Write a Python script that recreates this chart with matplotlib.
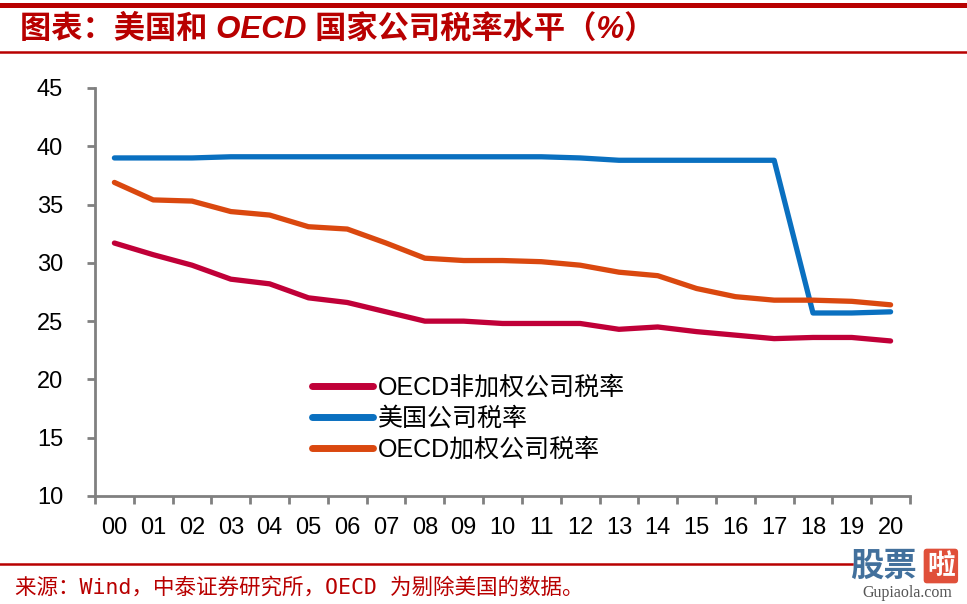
import matplotlib.pyplot as plt
from matplotlib.lines import Line2D

years = ['00', '01', '02', '03', '04', '05', '06', '07', '08', '09', '10',
         '11', '12', '13', '14', '15', '16', '17', '18', '19', '20']
oecd_unweighted = [31.7, 30.7, 29.8, 28.6, 28.2, 27.0, 26.6, 25.8, 25.0, 25.0, 24.8,
                   24.8, 24.8, 24.3, 24.5, 24.1, 23.8, 23.5, 23.6, 23.6, 23.3]
us_rate = [39.0, 39.0, 39.0, 39.1, 39.1, 39.1, 39.1, 39.1, 39.1, 39.1, 39.1,
           39.1, 39.0, 38.8, 38.8, 38.8, 38.8, 38.8, 25.7, 25.7, 25.8]
oecd_weighted = [36.9, 35.4, 35.3, 34.4, 34.1, 33.1, 32.9, 31.7, 30.4, 30.2, 30.2,
                 30.1, 29.8, 29.2, 28.9, 27.8, 27.1, 26.8, 26.8, 26.7, 26.4]
labels = ['OECD非加权公司税率', '美国公司税率', 'OECD加权公司税率']
colors = ['#C00038', '#0A70C0', '#DA480F']

title = '图表：美国和 OECD 国家公司税率水平（%）'
source = '来源：Wind，中泰证券研究所，OECD 为剔除美国的数据。'

plt.rcParams['font.family'] = ['Liberation Sans', 'Noto Sans CJK SC', 'DejaVu Sans']

W, H = 967, 604
fig = plt.figure(figsize=(W / 100, H / 100), dpi=100)
ax = fig.add_axes([95 / W, 1 - 496 / H, (910 - 95) / W, (496 - 88) / H])

x = list(range(len(years)))
for vals, lab, c in zip([oecd_unweighted, us_rate, oecd_weighted], labels, colors):
    ax.plot(x, vals, color=c, lw=3.8, label=lab, solid_capstyle='round', solid_joinstyle='round')

ax.set_xlim(-0.5, len(years) - 0.5)
ax.set_ylim(10, 45)
ax.set_yticks(range(10, 50, 5))
ax.set_xticks(x)
ax.set_xticklabels(years)
ax.set_xticks([i + 0.5 for i in range(-1, len(years))], minor=True)

gray = '#808080'
for s in ['top', 'right']:
    ax.spines[s].set_visible(False)
for s in ['left', 'bottom']:
    ax.spines[s].set_color(gray)
    ax.spines[s].set_linewidth(2)
ax.tick_params(axis='y', length=6, width=2, color=gray, pad=17, labelsize=17)
ax.tick_params(axis='x', which='major', length=0, pad=15, labelsize=17)
ax.tick_params(axis='x', which='minor', length=6, width=2, color=gray)

leg = ax.legend(loc='upper left', bbox_to_anchor=(312 / W, 1 - 376 / H),
                bbox_transform=fig.transFigure, frameon=False, fontsize=18,
                handlelength=2.45, handletextpad=0.2, labelspacing=0.27,
                borderpad=0, borderaxespad=0)
for h in leg.legend_handles:
    h.set_linewidth(5)

red = '#B80000'
fig.add_artist(Line2D([0, 1], [1 - 4.5 / H] * 2, color=red, lw=3.6))
fig.add_artist(Line2D([0, 1], [1 - 52 / H] * 2, color=red, lw=1.8))
fig.add_artist(Line2D([0, 852 / W], [1 - 564 / H] * 2, color=red, lw=1.8))

fig.text(20 / W, 1 - 30 / H, title, color=red, fontsize=22.5, fontweight='bold',
         style='italic', va='center', ha='left')
fig.text(15 / W, 1 - 587 / H, source, color=red, fontsize=15.5, va='center', ha='left',
         family=['DejaVu Sans Mono', 'Noto Sans CJK SC'])

# watermark
fig.text(850 / W, 1 - 566 / H, '股票', color='#42709C', fontsize=24, fontweight='bold',
         va='center', ha='left', family=['Noto Sans CJK SC'])
fig.text(927 / W, 1 - 566 / H, '啦', color='white', fontsize=20, fontweight='bold',
         va='center', ha='left', family=['Noto Sans CJK SC'],
         bbox=dict(boxstyle='round,pad=0.12', fc='#E0503A', ec='none'))
fig.text(907 / W, 1 - 593 / H, 'Gupiaola.com', color='#555555', fontsize=11.5,
         va='center', ha='center', family=['Liberation Serif'])

fig.savefig('out.png', dpi=100)
